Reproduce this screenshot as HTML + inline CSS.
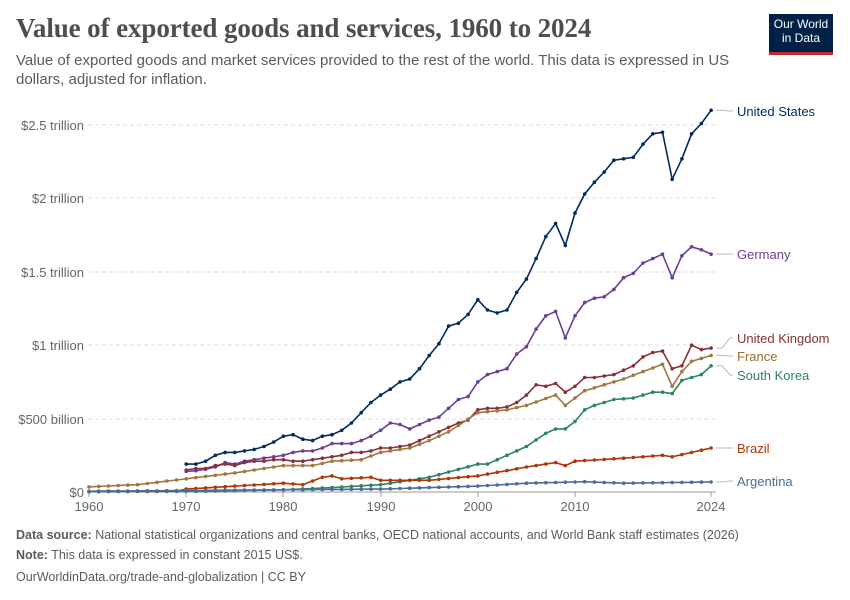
<!DOCTYPE html>
<html><head><meta charset="utf-8"><style>
body{margin:0;background:#fff;width:850px;height:600px;overflow:hidden;font-family:"Liberation Sans",sans-serif;}
.t{position:absolute;left:16px;top:13px;font-family:"Liberation Serif",serif;font-size:27px;font-weight:bold;color:#4e4e4e;white-space:nowrap;letter-spacing:-0.1px}
.s{position:absolute;left:16px;top:51px;width:720px;font-size:15px;line-height:19px;color:#5b5b5b}
.logo{position:absolute;left:769px;top:14px;width:64px;height:35px;background:#002147;border-bottom:3px solid #c52a2a;color:#fff;font-size:12px;line-height:14px;text-align:center;padding-top:3px;box-sizing:content-box}
.f{position:absolute;left:16px;font-size:12.5px;color:#5b5b5b;white-space:nowrap}
</style></head><body>
<div class="t">Value of exported goods and services, 1960 to 2024</div>
<div class="s">Value of exported goods and market services provided to the rest of the world. This data is expressed in US dollars, adjusted for inflation.</div>
<div class="logo">Our World<br>in Data</div>
<svg id="c" width="850" height="600" style="position:absolute;left:0;top:0" font-family="Liberation Sans, sans-serif">
<g stroke="#ddd" stroke-dasharray="4,3">
<line x1="88" x2="716" y1="125" y2="125"/><line x1="88" x2="716" y1="198" y2="198"/><line x1="88" x2="716" y1="272" y2="272"/><line x1="88" x2="716" y1="345" y2="345"/><line x1="88" x2="716" y1="419" y2="419"/>
</g>
<line x1="88" x2="716" y1="492" y2="492" stroke="#999"/>
<g font-size="13" fill="#666" text-anchor="end">
<text x="84" y="130">$2.5 trillion</text><text x="84" y="203">$2 trillion</text><text x="84" y="277">$1.5 trillion</text><text x="84" y="350">$1 trillion</text><text x="84" y="424">$500 billion</text><text x="84" y="497">$0</text>
</g>
<g font-size="13" fill="#666" text-anchor="middle">
<text x="89" y="511">1960</text><text x="186" y="511">1970</text><text x="283" y="511">1980</text><text x="381" y="511">1990</text><text x="478" y="511">2000</text><text x="575" y="511">2010</text><text x="711" y="511">2024</text>
</g>
<g stroke="#999"><line x1="89" x2="89" y1="492" y2="497"/><line x1="186" x2="186" y1="492" y2="497"/><line x1="283" x2="283" y1="492" y2="497"/><line x1="381" x2="381" y1="492" y2="497"/><line x1="478" x2="478" y1="492" y2="497"/><line x1="575" x2="575" y1="492" y2="497"/><line x1="711" x2="711" y1="492" y2="497"/></g>
<g font-size="13">
<text x="737" y="116" fill="#002b5c">United States</text>
<text x="737" y="259" fill="#6d3e91">Germany</text>
<text x="737" y="343" fill="#883039">United Kingdom</text>
<text x="737" y="361" fill="#9a6b2f">France</text>
<text x="737" y="380" fill="#2c8465">South Korea</text>
<text x="737" y="453" fill="#b13507">Brazil</text>
<text x="737" y="486" fill="#4c6a9c">Argentina</text>
</g>
<g id="d"></g>
</svg>
<div class="f" style="top:528px"><b>Data source:</b> National statistical organizations and central banks, OECD national accounts, and World Bank staff estimates (2026)</div>
<div class="f" style="top:548px"><b>Note:</b> This data is expressed in constant 2015 US$.</div>
<div class="f" style="top:570px">OurWorldinData.org/trade-and-globalization | CC BY</div>
<script>
const X=y=>89+9.72*(y-1960),Y=v=>492-146.8*v;
const S=[
["#002b5c",111,{1970:.19,1971:.19,1972:.21,1973:.25,1974:.27,1975:.27,1976:.28,1977:.29,1978:.31,1979:.34,1980:.38,1981:.39,1982:.36,1983:.35,1984:.38,1985:.39,1986:.42,1987:.47,1988:.54,1989:.61,1990:.66,1991:.70,1992:.75,1993:.77,1994:.84,1995:.93,1996:1.01,1997:1.13,1998:1.15,1999:1.21,2000:1.31,2001:1.24,2002:1.22,2003:1.24,2004:1.36,2005:1.45,2006:1.59,2007:1.74,2008:1.83,2009:1.68,2010:1.90,2011:2.03,2012:2.11,2013:2.18,2014:2.26,2015:2.27,2016:2.28,2017:2.37,2018:2.44,2019:2.45,2020:2.13,2021:2.27,2022:2.44,2023:2.51,2024:2.60}],
["#6d3e91",254,{1970:.14,1971:.145,1972:.155,1973:.17,1974:.2,1975:.19,1976:.21,1977:.22,1978:.23,1979:.24,1980:.25,1981:.27,1982:.28,1983:.28,1984:.3,1985:.33,1986:.33,1987:.33,1988:.35,1989:.38,1990:.42,1991:.47,1992:.46,1993:.43,1994:.46,1995:.49,1996:.51,1997:.57,1998:.63,1999:.65,2000:.75,2001:.80,2002:.82,2003:.84,2004:.94,2005:.99,2006:1.11,2007:1.20,2008:1.23,2009:1.05,2010:1.20,2011:1.29,2012:1.32,2013:1.33,2014:1.38,2015:1.46,2016:1.49,2017:1.56,2018:1.59,2019:1.62,2020:1.46,2021:1.61,2022:1.67,2023:1.65,2024:1.62}],
["#883039",338,{1970:.15,1971:.16,1972:.16,1973:.18,1974:.19,1975:.18,1976:.2,1977:.21,1978:.21,1979:.22,1980:.22,1981:.21,1982:.21,1983:.22,1984:.23,1985:.24,1986:.25,1987:.27,1988:.27,1989:.28,1990:.30,1991:.30,1992:.31,1993:.32,1994:.35,1995:.38,1996:.41,1997:.44,1998:.47,1999:.49,2000:.56,2001:.57,2002:.57,2003:.58,2004:.61,2005:.66,2006:.73,2007:.72,2008:.74,2009:.68,2010:.72,2011:.78,2012:.78,2013:.79,2014:.80,2015:.83,2016:.86,2017:.92,2018:.95,2019:.96,2020:.84,2021:.86,2022:1.00,2023:.97,2024:.98}],
["#a2773d",356,{1960:.035,1965:.05,1970:.09,1975:.13,1980:.18,1983:.18,1985:.21,1988:.22,1990:.27,1993:.30,1995:.35,1997:.41,2000:.54,2003:.56,2005:.59,2008:.66,2009:.59,2010:.64,2011:.69,2015:.77,2019:.87,2020:.72,2021:.82,2022:.89,2024:.93}],
["#2c8465",375,{1960:.002,1972:.005,1980:.015,1985:.03,1990:.05,1995:.10,2000:.19,2001:.19,2005:.31,2007:.40,2008:.43,2009:.43,2010:.48,2011:.56,2012:.59,2014:.63,2016:.64,2018:.68,2019:.68,2020:.67,2021:.76,2023:.80,2024:.86}],
["#b13507",448,{1960:.005,1969:.006,1970:.02,1975:.04,1980:.06,1982:.05,1984:.10,1985:.11,1986:.09,1989:.10,1990:.08,1995:.08,2000:.11,2005:.17,2008:.20,2009:.18,2010:.21,2015:.23,2019:.25,2020:.24,2024:.30}],
["#4c6a9c",481,{1960:.005,1970:.01,1990:.02,2000:.04,2005:.06,2011:.07,2015:.06,2024:.068}]];
let h="";
for(const [c,ly,k] of S){const ks=Object.keys(k).map(Number);const a=ks[0],b=ks[ks.length-1];let pts=[];
for(let y=a;y<=b;y++){let v;if(k[y]!==undefined)v=k[y];else{let i=ks.findIndex(q=>q>y);let p=ks[i-1],n=ks[i];v=k[p]+(k[n]-k[p])*(y-p)/(n-p);}pts.push([X(y),Y(v)]);}
h+=`<polyline fill="none" stroke="${c}" stroke-width="1.6" points="${pts.map(p=>p[0].toFixed(1)+','+p[1].toFixed(1)).join(' ')}"/>`;
for(const p of pts)h+=`<circle cx="${p[0].toFixed(1)}" cy="${p[1].toFixed(1)}" r="1.8" fill="${c}"/>`;
const l=pts[pts.length-1];h+=`<path d="M${l[0]+5},${l[1]}H${722}L${730},${ly}H733" fill="none" stroke="#bbb"/>`;}
document.getElementById("d").innerHTML=h;
</script>
</body></html>
